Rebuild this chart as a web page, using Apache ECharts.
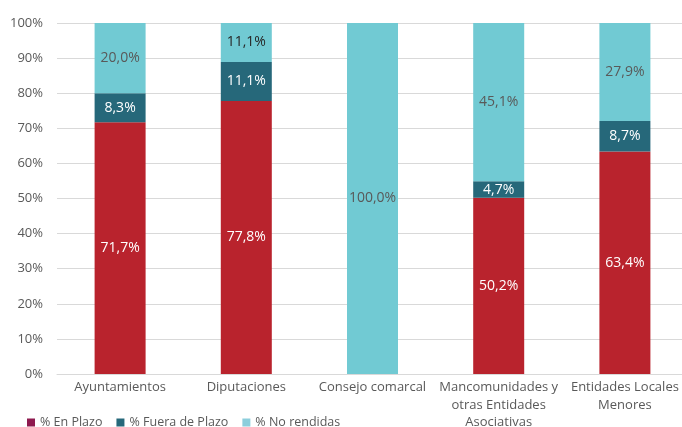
<!DOCTYPE html>
<html>
<head>
<meta charset="utf-8">
<script src="https://cdn.jsdelivr.net/npm/echarts@6/dist/echarts.min.js"></script>
<style>
html, body { margin: 0; padding: 0; background: #fff; }
#chart { width: 682px; height: 427px; }
</style>
</head>
<body>
<div id="chart"></div>
<script>
const categories = ['Ayuntamientos', 'Diputaciones', 'Consejo comarcal', 'Mancomunidades y\notras Entidades\nAsociativas', 'Entidades Locales\nMenores']
const enPlazo = [71.7, 77.8, 0, 50.2, 63.4]
const fueraPlazo = [8.3, 11.1, 0, 4.7, 8.7]
const noRendidas = [20.0, 11.1, 100.0, 45.1, 27.9]
const noRendidasLabelColor = ['#595959', '#262626', '#595959', '#595959', '#595959']

const font = '"Open Sans", "Noto Sans", sans-serif'
const fmt = v => v.toFixed(1).replace('.', ',') + '%'

function labelFor(color) {
  return {
    show: true,
    position: 'inside',
    fontFamily: font,
    fontSize: 14,
    color: color,
    formatter: p => p.value > 0 ? fmt(p.value) : ''
  }
}

let option = {
  animation: false,
  textStyle: { fontFamily: font },
  grid: { left: 57, width: 631, top: 23, bottom: 53, outerBoundsMode: 'none', containLabel: false },
  legend: {
    left: 22,
    top: 411,
    itemWidth: 8,
    itemHeight: 8,
    itemGap: 14,
    icon: 'rect',
    textStyle: { fontFamily: font, fontSize: 12.5, color: '#595959' },
    data: [
      { name: '% En Plazo', itemStyle: { color: '#8E1A4F' } },
      { name: '% Fuera de Plazo', itemStyle: { color: '#26687A' } },
      { name: '% No rendidas', itemStyle: { color: '#8CCEDC' } }
    ]
  },
  xAxis: {
    type: 'category',
    data: categories,
    axisLine: { lineStyle: { color: '#D9D9D9' } },
    axisTick: { show: false },
    axisLabel: { fontFamily: font, fontSize: 13, color: '#595959', lineHeight: 17.5, interval: 0, margin: 5 }
  },
  yAxis: {
    type: 'value',
    min: 0,
    max: 100,
    interval: 10,
    axisLine: { show: false },
    axisTick: { show: false },
    splitLine: { lineStyle: { color: '#D9D9D9' } },
    axisLabel: { fontFamily: font, fontSize: 13, color: '#595959', formatter: '{value}%', margin: 14 }
  },
  series: [
    {
      name: '% En Plazo',
      type: 'bar',
      stack: 'all',
      barWidth: 51,
      itemStyle: { color: '#B9232D' },
      label: labelFor('#fff'),
      data: enPlazo
    },
    {
      name: '% Fuera de Plazo',
      type: 'bar',
      stack: 'all',
      itemStyle: { color: '#26687A' },
      label: labelFor('#fff'),
      data: fueraPlazo
    },
    {
      name: '% No rendidas',
      type: 'bar',
      stack: 'all',
      itemStyle: { color: '#71CAD3' },
      data: noRendidas.map((v, i) => ({
        value: v,
        label: labelFor(noRendidasLabelColor[i])
      }))
    }
  ]
}

let myChart = echarts.init(document.getElementById('chart'))
myChart.setOption(option)
</script>
</body>
</html>
